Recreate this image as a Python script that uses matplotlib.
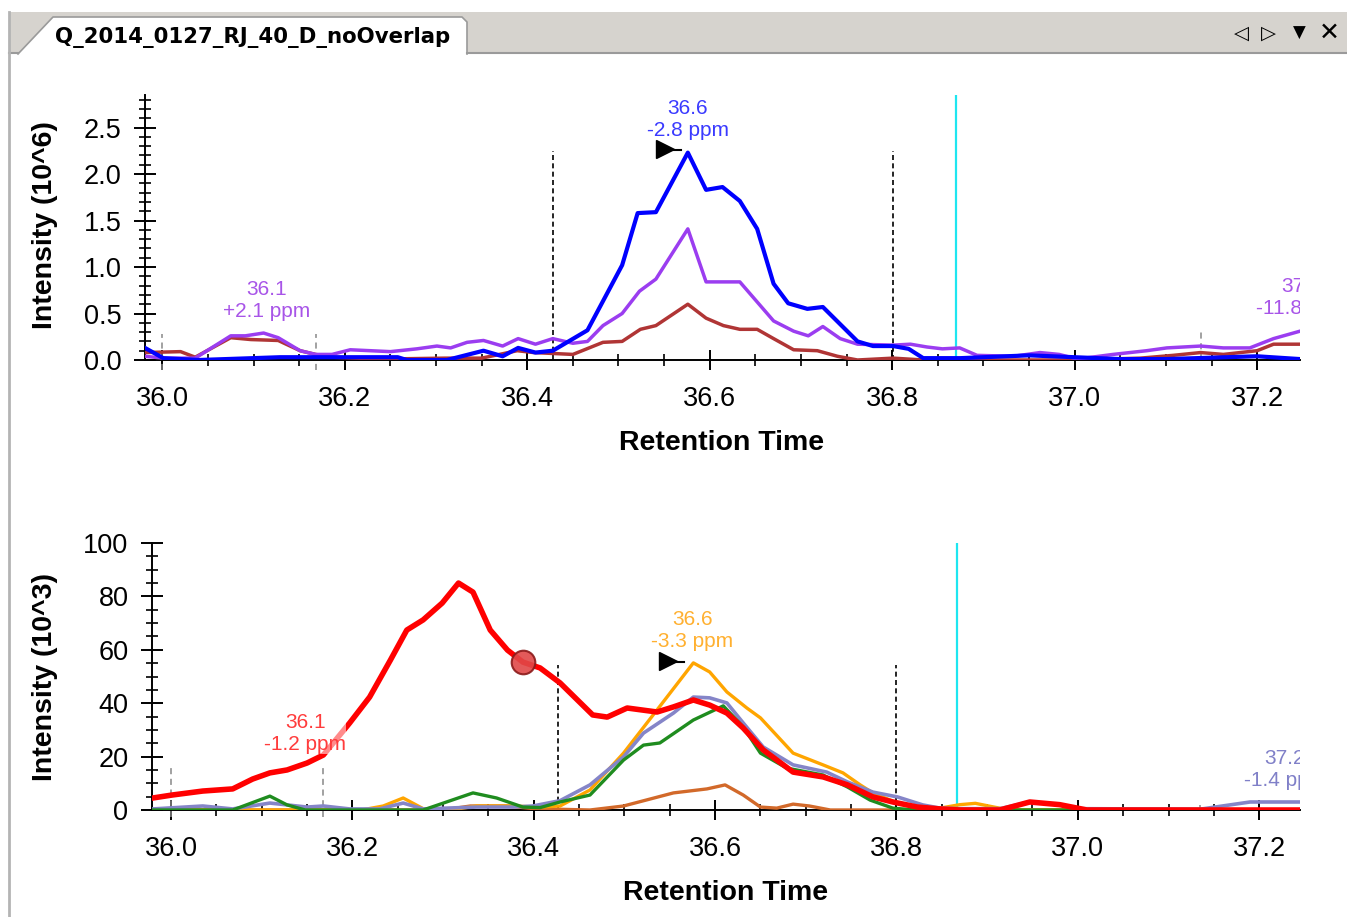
import matplotlib
matplotlib.use("Agg")
import matplotlib.pyplot as plt
from matplotlib.ticker import MultipleLocator, FormatStrFormatter
from matplotlib.patches import Rectangle, Polygon
from matplotlib.lines import Line2D

plt.rcParams['font.family'] = ['Liberation Sans', 'DejaVu Sans']

W, H = 1347, 917

# ---- top chart data (intensity in 10^6) ----
blue_x = [35.981, 36.001, 36.040, 36.129, 36.258, 36.268, 36.312, 36.352, 36.373, 36.390,
          36.409, 36.428, 36.466, 36.504, 36.521, 36.541, 36.576, 36.596, 36.614, 36.633,
          36.652, 36.670, 36.686, 36.707, 36.724, 36.762, 36.779, 36.801, 36.818, 36.834,
          36.853, 36.875, 36.95, 37.00, 37.05, 37.1, 37.2, 37.247]
blue_y = [0.13, 0.02, 0.0, 0.03, 0.03, 0.0, 0.0, 0.10, 0.04, 0.13,
          0.08, 0.10, 0.32, 1.02, 1.58, 1.59, 2.23, 1.83, 1.86, 1.71,
          1.41, 0.82, 0.61, 0.55, 0.57, 0.20, 0.15, 0.15, 0.12, 0.02,
          0.02, 0.02, 0.05, 0.03, 0.01, 0.01, 0.04, 0.01]

purple_x = [35.981, 36.001, 36.036, 36.075, 36.091, 36.111, 36.127, 36.151, 36.168, 36.186,
            36.206, 36.25, 36.279, 36.301, 36.316, 36.334, 36.352, 36.373, 36.390, 36.409,
            36.428, 36.45, 36.466, 36.483, 36.504, 36.523, 36.541, 36.576, 36.596, 36.633,
            36.670, 36.692, 36.708, 36.724, 36.743, 36.762, 36.801, 36.820, 36.838, 36.855,
            36.874, 36.893, 36.933, 36.962, 36.983, 37.003, 37.042, 37.079, 37.101, 37.138,
            37.163, 37.192, 37.218, 37.247]
purple_y = [0.04, 0.02, 0.02, 0.26, 0.26, 0.29, 0.24, 0.10, 0.06, 0.06,
            0.11, 0.09, 0.12, 0.15, 0.13, 0.19, 0.21, 0.15, 0.23, 0.17,
            0.23, 0.18, 0.20, 0.37, 0.50, 0.74, 0.87, 1.41, 0.84, 0.84,
            0.42, 0.31, 0.26, 0.36, 0.23, 0.17, 0.16, 0.17, 0.14, 0.12,
            0.13, 0.05, 0.04, 0.08, 0.06, 0.01, 0.06, 0.10, 0.13, 0.15,
            0.13, 0.13, 0.23, 0.31]

brown_x = [35.981, 36.020, 36.036, 36.075, 36.097, 36.127, 36.151, 36.168, 36.186, 36.241,
           36.31, 36.35, 36.389, 36.407, 36.45, 36.483, 36.504, 36.524, 36.541, 36.576,
           36.596, 36.615, 36.633, 36.652, 36.670, 36.692, 36.718, 36.740, 36.762, 36.801,
           36.834, 36.9, 37.0, 37.072, 37.108, 37.138, 37.163, 37.2, 37.218, 37.247]
brown_y = [0.08, 0.09, 0.03, 0.24, 0.22, 0.21, 0.10, 0.06, 0.03, 0.01,
           0.02, 0.02, 0.10, 0.08, 0.06, 0.19, 0.20, 0.33, 0.37, 0.60,
           0.45, 0.37, 0.33, 0.33, 0.23, 0.11, 0.10, 0.04, 0.0, 0.02,
           0.0, 0.0, 0.0, 0.02, 0.05, 0.08, 0.06, 0.10, 0.17, 0.17]

# ---- bottom chart data (intensity in 10^3) ----
red_x = [35.980, 36.001, 36.035, 36.068, 36.090, 36.109, 36.128, 36.150, 36.168, 36.197,
         36.219, 36.242, 36.260, 36.278, 36.299, 36.317, 36.333, 36.352, 36.371, 36.388,
         36.407, 36.429, 36.465, 36.481, 36.503, 36.536, 36.554, 36.576, 36.594, 36.613,
         36.631, 36.653, 36.686, 36.719, 36.746, 36.774, 36.796, 36.823, 36.848, 36.870,
         36.914, 36.947, 36.980, 37.010, 37.245]
red_y = [4.5, 5.6, 7.1, 7.9, 11.6, 13.9, 15.0, 17.6, 20.6, 32.6,
         42.3, 56.2, 67.4, 71.2, 77.5, 85.0, 81.6, 67.4, 59.9, 55.4,
         53.2, 47.6, 35.6, 34.8, 38.2, 36.7, 38.6, 41.2, 39.3, 36.3,
         30.7, 22.5, 14.2, 12.4, 9.4, 4.9, 3.0, 1.1, 0.4, 0.0,
         0.0, 3.0, 2.0, 0.0, 0.0]

orange_x = [35.980, 36.210, 36.234, 36.256, 36.278, 36.308, 36.337, 36.377, 36.407, 36.429,
            36.462, 36.499, 36.536, 36.576, 36.594, 36.613, 36.635, 36.650, 36.686, 36.719,
            36.741, 36.760, 36.774, 36.801, 36.829, 36.848, 36.870, 36.887, 36.909, 36.925,
            37.245]
orange_y = [0.0, 0.0, 1.5, 4.5, 0.5, 0.0, 1.5, 1.5, 1.1, 1.5,
            7.5, 21.3, 37.5, 55.1, 51.7, 44.2, 38.2, 34.5, 21.3, 16.9,
            13.9, 9.4, 6.4, 2.6, 0.7, 0.7, 2.0, 2.5, 1.0, 0.0,
            0.0]

slate_x = [35.980, 36.035, 36.068, 36.109, 36.150, 36.168, 36.197, 36.230, 36.256, 36.278,
           36.337, 36.377, 36.399, 36.429, 36.462, 36.499, 36.521, 36.554, 36.576, 36.594,
           36.613, 36.631, 36.653, 36.686, 36.723, 36.746, 36.774, 36.801, 36.829, 36.848,
           36.870, 36.914, 36.947, 36.980, 37.000, 37.135, 37.190, 37.245]
slate_y = [0.4, 1.5, 0.4, 2.6, 1.1, 1.5, 0.4, 0.4, 2.6, 0.4,
           1.1, 1.1, 1.5, 3.5, 9.4, 19.9, 28.8, 36.3, 42.3, 42.0,
           40.1, 32.6, 23.6, 16.9, 14.2, 10.5, 6.7, 4.9, 1.9, 0.7,
           0.5, 0.5, 3.0, 2.0, 0.5, 0.3, 3.0, 3.0]

green_x = [35.980, 36.068, 36.109, 36.128, 36.148, 36.278, 36.333, 36.359, 36.388, 36.407,
           36.429, 36.462, 36.499, 36.521, 36.539, 36.576, 36.609, 36.631, 36.650, 36.679,
           36.719, 36.746, 36.771, 36.796, 36.820, 37.245]
green_y = [0.0, 0.0, 5.2, 1.9, 0.0, 0.0, 6.4, 4.5, 1.1, 0.9,
           3.0, 5.6, 18.7, 24.3, 25.1, 33.7, 39.0, 31.1, 21.3, 15.7,
           13.1, 8.6, 3.7, 0.7, 0.0, 0.0]

tan_x = [35.980, 36.300, 36.330, 36.370, 36.400, 36.462, 36.499, 36.554, 36.591, 36.611,
         36.631, 36.650, 36.668, 36.686, 36.704, 36.727, 37.245]
tan_y = [0.0, 0.0, 1.5, 1.5, 0.5, 0.0, 1.5, 6.4, 7.9, 9.4,
         5.6, 1.1, 0.7, 2.2, 1.5, 0.0, 0.0]


def fx(x):
    return x / W


def fy(y):
    return 1 - y / H


fig = plt.figure(figsize=(W / 100, H / 100), dpi=100)
fig.patch.set_facecolor('white')

# window chrome: tab bar, tab, left border
fig.add_artist(Rectangle((fx(9), fy(53)), fx(W - 9), 41 / H, transform=fig.transFigure,
                         facecolor='#d6d3ce', edgecolor='none', zorder=0))
tab = [(18, 54), (53, 17), (462, 17), (467, 22), (467, 54)]
fig.add_artist(Polygon([(fx(a), fy(b)) for a, b in tab], closed=True, transform=fig.transFigure,
                       facecolor='white', edgecolor='none', zorder=1))
fig.add_artist(Line2D([fx(a) for a, b in tab], [fy(b) for a, b in tab], transform=fig.transFigure,
                      color='#9a9a9a', lw=1.2, zorder=2))
fig.add_artist(Line2D([fx(9), fx(18)], [fy(53), fy(53)], transform=fig.transFigure,
                      color='#9a9a9a', lw=1.5, zorder=2))
fig.add_artist(Line2D([fx(467), fx(W)], [fy(53), fy(53)], transform=fig.transFigure,
                      color='#9a9a9a', lw=1.5, zorder=2))
fig.add_artist(Line2D([fx(9), fx(9)], [fy(12), 0], transform=fig.transFigure,
                      color='#b4b4b4', lw=2, zorder=2))
fig.text(fx(55), fy(37), 'Q_2014_0127_RJ_40_D_noOverlap', fontsize=15.3, fontweight='bold',
         family='DejaVu Sans', ha='left', va='center', zorder=3)
for xpos, glyph, size in [(1241, '◁', 14), (1268, '▷', 14), (1299, '▼', 12), (1329, '✕', 18)]:
    fig.text(fx(xpos), fy(33), glyph, fontsize=size, family='DejaVu Sans',
             ha='center', va='center', zorder=3)


def style_axes(ax, xlim, ylim, ymajor, yminor, yfmt):
    ax.set_xlim(*xlim)
    ax.set_ylim(*ylim)
    ax.spines['top'].set_visible(False)
    ax.spines['right'].set_visible(False)
    for s in ('left', 'bottom'):
        ax.spines[s].set_linewidth(1.4)
    ax.xaxis.set_major_locator(MultipleLocator(0.2))
    ax.xaxis.set_minor_locator(MultipleLocator(0.05))
    ax.xaxis.set_major_formatter(FormatStrFormatter('%.1f'))
    ax.yaxis.set_major_locator(MultipleLocator(ymajor))
    ax.yaxis.set_minor_locator(MultipleLocator(yminor))
    ax.yaxis.set_major_formatter(FormatStrFormatter(yfmt))
    ax.tick_params(axis='x', which='major', direction='inout', length=15, width=1.4,
                   labelsize=19.5, pad=11.5)
    ax.tick_params(axis='x', which='minor', direction='inout', length=9, width=1.2)
    ax.tick_params(axis='y', which='major', direction='inout', length=16, width=1.4,
                   labelsize=19.5, pad=9)
    ax.tick_params(axis='y', which='minor', direction='inout', length=9, width=1.2)
    ax.patch.set_alpha(0)


# ---- top chart ----
ax1 = fig.add_axes([145 / W, 1 - 360 / H, (1300 - 145) / W, (360 - 95) / H])
style_axes(ax1, (35.981, 37.247), (0, 2.85), 0.5, 0.1, '%.1f')
ax1.plot(brown_x, brown_y, color='#b03535', lw=2.5, zorder=3)
ax1.plot(purple_x, purple_y, color='#9b3df0', lw=2.5, zorder=4)
ax1.plot(blue_x, blue_y, color='#0000ff', lw=3.0, zorder=5)
ax1.vlines([36.428, 36.801], 0, 2.25, colors='black', linestyles=(0, (3, 2)), lw=1.2, zorder=2)
ax1.vlines([36.870], 0, 2.85, colors='#1ee6f0', lw=1.6, zorder=2)
ax1.vlines([36.0, 36.168], -0.11, 0.28, colors='#888888', linestyles=(0, (4, 3)), lw=1.1,
           clip_on=False, zorder=2)
ax1.vlines([37.138], 0, 0.31, colors='#888888', linestyles=(0, (4, 3)), lw=1.1, zorder=2)
ax1.plot([36.551], [2.27], marker='>', color='black', markersize=13, zorder=6)
ax1.plot([36.551, 36.568], [2.26, 2.26], color='black', lw=1.5, zorder=6)
ax1.text(36.576, 2.59, '36.6\n-2.8 ppm', color='#3a3aff', fontsize=15, ha='center',
         va='center', linespacing=1.2, zorder=7)
ax1.text(36.114, 0.64, '36.1\n+2.1 ppm', color='#a855e8', fontsize=15, ha='center',
         va='center', linespacing=1.2, zorder=7)
ax1.text(37.249, 0.67, '37.2\n-11.8 ppm', color='#a855e8', fontsize=15, ha='center',
         va='center', linespacing=1.2, clip_on=True, zorder=7)

# ---- bottom chart ----
ax2 = fig.add_axes([152 / W, 1 - 810 / H, (1300 - 152) / W, (810 - 543) / H])
style_axes(ax2, (35.979, 37.245), (0, 100), 20, 5, '%d')
ax2.plot(tan_x, tan_y, color='#d2692a', lw=2.4, zorder=3)
ax2.plot(orange_x, orange_y, color='#ffa500', lw=2.4, zorder=4)
ax2.plot(slate_x, slate_y, color='#8585c8', lw=2.6, zorder=4)
ax2.plot(green_x, green_y, color='#1f8c1f', lw=2.4, zorder=5)
ax2.plot(red_x, red_y, color='#ff0000', lw=4.0, zorder=6)
ax2.vlines([36.427, 36.799], 0, 54.3, colors='black', linestyles=(0, (3, 2)), lw=1.2, zorder=2)
ax2.vlines([36.867], 0, 100, colors='#1ee6f0', lw=1.6, zorder=2)
ax2.vlines([36.0, 36.168], -2.6, 16.5, colors='#888888', linestyles=(0, (4, 3)), lw=1.1,
           clip_on=False, zorder=2)
ax2.vlines([37.135], 0, 2, colors='#888888', linestyles=(0, (4, 3)), lw=1.1, zorder=2)
ax2.plot([36.388], [55.4], marker='o', markersize=17, markerfacecolor='#e04848',
         markeredgecolor='#8b1a1a', markeredgewidth=1.5, alpha=0.9, zorder=8)
ax2.plot([36.548], [55.8], marker='>', color='black', markersize=13, zorder=8)
ax2.plot([36.548, 36.566], [55.6, 55.6], color='black', lw=1.5, zorder=8)
ax2.text(36.148, 28.5, '36.1\n-1.2 ppm', color='#ff3c3c', fontsize=15, ha='center',
         va='center', linespacing=1.2, zorder=9,
         bbox=dict(facecolor='white', alpha=0.55, edgecolor='none', pad=0))
ax2.text(36.575, 67.4, '36.6\n-3.3 ppm', color='#ffb030', fontsize=15, ha='center',
         va='center', linespacing=1.2, zorder=9)
ax2.text(37.228, 15.0, '37.2\n-1.4 ppm', color='#8080c8', fontsize=15, ha='center',
         va='center', linespacing=1.2, clip_on=True, zorder=9)

# axis titles
fig.text(45 / W, 1 - 225 / H, 'Intensity (10^6)', rotation=90, fontsize=20.5,
         fontweight='bold', ha='center', va='center')
fig.text(45 / W, 1 - 677 / H, 'Intensity (10^3)', rotation=90, fontsize=20.5,
         fontweight='bold', ha='center', va='center')
fig.text(722 / W, 1 - 443 / H, 'Retention Time', fontsize=20.5, fontweight='bold',
         ha='center', va='center')
fig.text(726 / W, 1 - 893 / H, 'Retention Time', fontsize=20.5, fontweight='bold',
         ha='center', va='center')

fig.savefig('out.png', dpi=100)
